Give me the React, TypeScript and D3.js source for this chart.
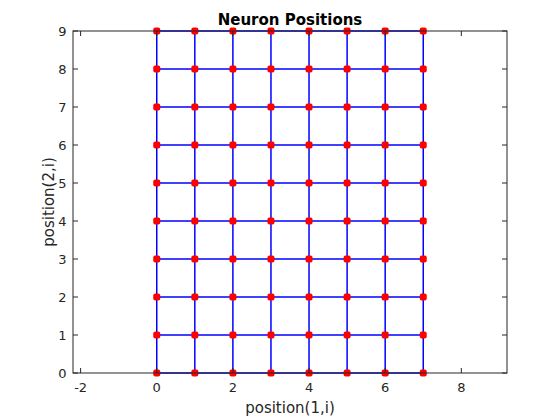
import React from "react";
import * as d3 from "d3";

const cols = [0, 1, 2, 3, 4, 5, 6, 7];
const rows = [0, 1, 2, 3, 4, 5, 6, 7, 8, 9];
const xTicks = [-2, 0, 2, 4, 6, 8];
const yTicks = [0, 1, 2, 3, 4, 5, 6, 7, 8, 9];
const xDomain = [-2.2, 9.2];
const yDomain = [0, 9];
const title = "Neuron Positions";
const xLabel = "position(1,i)";
const yLabel = "position(2,i)";

export default function App() {
  const W = 560, H = 420;
  const L = 73, R = 507, T = 31, B = 373;
  const x = d3.scaleLinear().domain(xDomain).range([L, R]);
  const y = d3.scaleLinear().domain(yDomain).range([B, T]);
  const line = d3.line<[number, number]>().x(d => x(d[0])).y(d => y(d[1]));
  const axisColor = "#262626";
  const font = "DejaVu Sans, sans-serif";
  const tl = 5;
  const points: [number, number][] = [];
  cols.forEach(c => rows.forEach(r => points.push([c, r])));
  return (
    <svg width={W} height={H} style={{ position: "absolute", left: 0, top: 0 }}>
      <rect x={0} y={0} width={W} height={H} fill="#fff" />
      {rows.map(r => (
        <path key={"h" + r} d={line([[cols[0], r], [cols[cols.length - 1], r]]) || ""} stroke="#0000ff" strokeWidth={1.5} fill="none" />
      ))}
      {cols.map(c => (
        <path key={"v" + c} d={line([[c, rows[0]], [c, rows[rows.length - 1]]]) || ""} stroke="#0000ff" strokeWidth={1.5} fill="none" />
      ))}
      {points.map((p, i) => (
        <rect key={i} x={x(p[0]) - 3.5} y={y(p[1]) - 3.5} width={7} height={7} rx={2} fill="#ff0000" />
      ))}
      <rect x={L} y={T} width={R - L} height={B - T} fill="none" stroke={axisColor} strokeWidth={1} />
      {xTicks.map(t => (
        <g key={"xt" + t}>
          <line x1={x(t)} x2={x(t)} y1={B} y2={B - tl} stroke={axisColor} />
          <line x1={x(t)} x2={x(t)} y1={T} y2={T + tl} stroke={axisColor} />
          <text x={x(t)} y={B + 19} textAnchor="middle" fontFamily={font} fontSize={13} fill={axisColor}>{t}</text>
        </g>
      ))}
      {yTicks.map(t => (
        <g key={"yt" + t}>
          <line x1={L} x2={L + tl} y1={y(t)} y2={y(t)} stroke={axisColor} />
          <line x1={R} x2={R - tl} y1={y(t)} y2={y(t)} stroke={axisColor} />
          <text x={L - 6.5} y={y(t) + 4.7} textAnchor="end" fontFamily={font} fontSize={13} fill={axisColor}>{t}</text>
        </g>
      ))}
      <text x={(L + R) / 2} y={25} textAnchor="middle" fontFamily={font} fontSize={15} fontWeight="bold" fill="#000">{title}</text>
      <text x={(L + R) / 2} y={413} textAnchor="middle" fontFamily={font} fontSize={15} fill={axisColor}>{xLabel}</text>
      <text transform={`translate(54,${(T + B) / 2}) rotate(-90)`} textAnchor="middle" fontFamily={font} fontSize={15} fill={axisColor}>{yLabel}</text>
    </svg>
  );
}
